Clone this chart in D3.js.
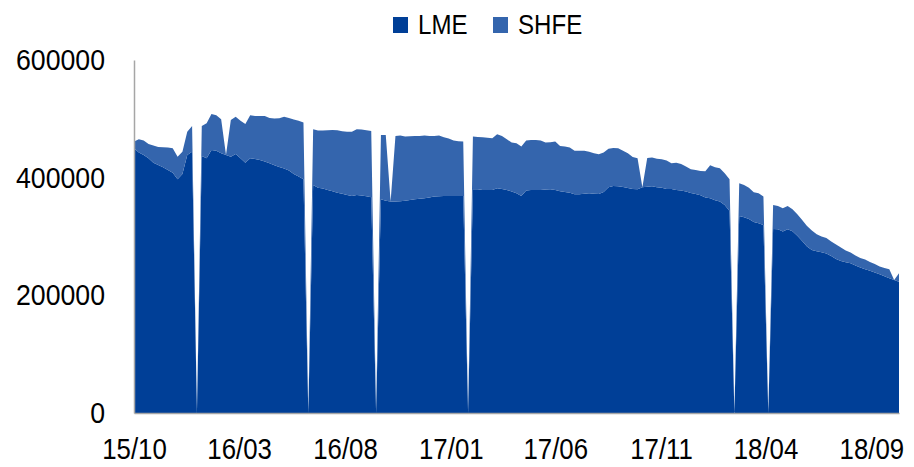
<!DOCTYPE html>
<html>
<head>
<meta charset="utf-8">
<script src="https://cdn.jsdelivr.net/npm/d3@7"></script>
<style>
  body { margin: 0; background: #fff; }
  svg text { font-family: "Liberation Sans", Arial, sans-serif; fill: #000; }
</style>
</head>
<body>
<svg id="chart"></svg>
<script>
// weekly stocks (tonnes), Fridays from 2015-10-02 to 2018-10-12
const firstWeek = "2015-10-02";
const lastWeek = "2018-10-12";

const lme = [
  450000, 442600, 438600, 432900, 425500, 421600, 417700, 413100, 408500, 397300,
  406400, 438600, 444200, 0, 436900, 432900, 447100, 445900, 441500, 438600,
  435700, 440300, 432900, 425500, 432900, 431800, 430200, 427300, 424500, 421000,
  418300, 415400, 412000, 406400, 401800, 397300, 0, 387600, 382900, 381400,
  379100, 376800, 374500, 372800, 370700, 368900, 370700, 369500, 368300, 366700,
  0, 363200, 360900, 359300, 359300, 359800, 360900, 362100, 363200, 364300,
  364900, 366100, 367800, 368300, 368900, 368900, 368900, 368900, 368900, 0,
  380300, 380300, 379100, 379100, 379000, 382000, 380800, 379100, 376300, 373400,
  368900, 378000, 379100, 379100, 379100, 379700, 380300, 379100, 376800, 375700,
  374500, 371800, 371800, 372800, 373400, 372800, 372300, 375700, 383600, 385900,
  385300, 384200, 382600, 380800, 380300, 383600, 384700, 385300, 383600, 383000,
  380800, 380800, 379100, 378000, 376300, 374000, 372300, 370100, 366100, 364900,
  361500, 359300, 353600, 343400, 0, 335000, 332700, 329800, 324700, 322500,
  319600, 0, 312800, 312200, 308300, 312200, 308900, 301400, 292400, 282800,
  277100, 274900, 273200, 270900, 266900, 261900, 258400, 256100, 254400, 250500,
  247100, 244300, 241900, 238600, 235800, 232400, 228900, 226100, 223300
];

const shfe = [
  11300, 22600, 24400, 24400, 29000, 30600, 34000, 38000, 41500, 38400,
  37800, 39600, 43700, 0, 51000, 59600, 61200, 60200, 57800, 0,
  62400, 63400, 64000, 65800, 73200, 73100, 74700, 77600, 77100, 79400,
  82600, 88300, 89600, 92300, 95100, 96300, 0, 94600, 97100, 98600,
  101500, 104300, 106100, 106000, 107500, 109300, 111500, 112200, 112300, 112700,
  0, 109400, 111700, 0, 111600, 111700, 108900, 108200, 107700, 106600,
  106600, 104800, 103100, 103200, 99700, 97500, 94100, 93000, 92400, 0,
  89500, 88900, 89500, 88900, 88000, 92000, 90100, 86100, 83300, 85000,
  83900, 85000, 85000, 85000, 83900, 79900, 79800, 82200, 77200, 77100,
  76600, 74100, 74100, 73100, 70800, 68700, 67500, 66900, 65700, 64600,
  64600, 61700, 58900, 54400, 52600, 0, 48800, 48800, 48700, 48300,
  48200, 43700, 46400, 45300, 42500, 40300, 40800, 41300, 44800, 56100,
  56200, 56700, 53800, 53900, 0, 55500, 54900, 53200, 50500, 50900,
  48200, 0, 40800, 39700, 39700, 39700, 37400, 36300, 35700, 35100,
  32900, 28800, 26600, 26600, 24400, 24300, 22700, 19900, 18200, 17000,
  16400, 16400, 14800, 14700, 13000, 14100, 15400, 0, 14200
];

const seriesNames = ["LME", "SHFE"];
const seriesColors = ["#003f97", "#3465ad"];

const xTickDates = ["2015-10-02", "2016-03-02", "2016-08-02", "2017-01-02",
                    "2017-06-02", "2017-11-02", "2018-04-02", "2018-09-02"];
const xTickLabels = ["15/10", "16/03", "16/08", "17/01", "17/06", "17/11", "18/04", "18/09"];
const yTicks = [0, 200000, 400000, 600000];

const width = 914;
const height = 467;
const margin = { top: 60, right: 15, bottom: 54, left: 134 };
const squeeze = 0.89; // narrow the Arial-like glyphs toward the original face

const parse = d3.timeParse("%Y-%m-%d");
const start = parse(firstWeek);
const end = parse(lastWeek);
const weeks = d3.timeFriday.range(start, d3.timeDay.offset(end, 1));

const table = weeks.map((d, i) => ({ date: d, LME: lme[i], SHFE: shfe[i] }));

const svg = d3.select("#chart")
  .attr("width", width)
  .attr("height", height);

const x = d3.scaleTime()
  .domain([start, end])
  .range([margin.left, width - margin.right]);

const y = d3.scaleLinear()
  .domain([0, 600000])
  .range([height - margin.bottom, margin.top]);

const color = d3.scaleOrdinal().domain(seriesNames).range(seriesColors);

const stacked = d3.stack().keys(seriesNames)(table);

const area = d3.area()
  .x(d => x(d.data.date))
  .y0(d => y(d[0]))
  .y1(d => y(d[1]));

svg.append("g")
  .selectAll("path")
  .data(stacked)
  .enter()
  .append("path")
  .attr("d", area)
  .attr("fill", d => color(d.key));

// Axes
const xAxis = svg.append("g")
  .attr("transform", `translate(0, ${y(0)})`)
  .call(d3.axisBottom(x)
    .tickValues(xTickDates.map(parse))
    .tickFormat((d, i) => xTickLabels[i])
    .tickSize(0)
    .tickSizeOuter(0)
    .tickPadding(25));

const yAxis = svg.append("g")
  .attr("transform", `translate(${margin.left},0)`)
  .call(d3.axisLeft(y)
    .tickValues(yTicks)
    .tickFormat(d3.format("d"))
    .tickSize(0)
    .tickSizeOuter(0)
    .tickPadding(29));

[xAxis, yAxis].forEach(g => {
  g.select(".domain").attr("stroke", "#a6a6a6").attr("stroke-width", 1.5);
  g.selectAll("text")
    .style("font-family", '"Liberation Sans", Arial, sans-serif')
    .style("font-size", "30px")
    .attr("fill", "#000")
    .attr("transform", `scale(${squeeze},1)`);
});
yAxis.selectAll("text").attr("x", -29 / squeeze);
xAxis.selectAll("text").style("font-size", "29px");

// Legend
const legend = svg.append("g");
const legendX = [393, 493];
seriesNames.forEach((name, i) => {
  legend.append("rect")
    .attr("x", legendX[i])
    .attr("y", 17)
    .attr("width", 15)
    .attr("height", 16)
    .attr("fill", color(name));
  legend.append("text")
    .attr("transform", `translate(${legendX[i] + 25},33.5) scale(0.86,1)`)
    .style("font-size", "28px")
    .text(name);
});
</script>
</body>
</html>
